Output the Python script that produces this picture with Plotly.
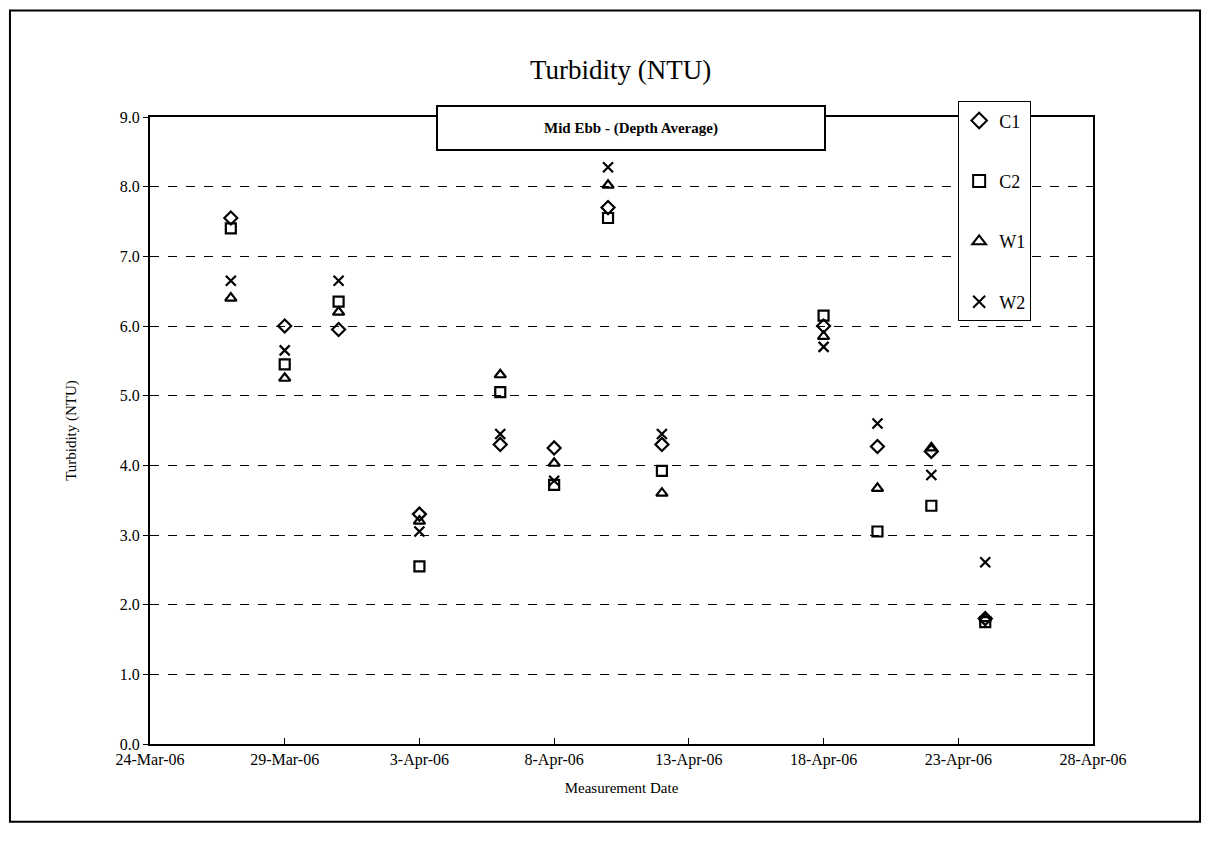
import plotly.graph_objects as go

dates = ["2006-03-27", "2006-03-29", "2006-03-31", "2006-04-03", "2006-04-06", "2006-04-08",
         "2006-04-10", "2006-04-12", "2006-04-18", "2006-04-20", "2006-04-22", "2006-04-24"]
c1 = [7.55, 6.0, 5.95, 3.3, 4.3, 4.25, 7.7, 4.3, 6.0, 4.27, 4.2, 1.8]
c2 = [7.4, 5.45, 6.35, 2.55, 5.05, 3.72, 7.55, 3.92, 6.15, 3.05, 3.42, 1.75]
w1 = [6.4, 5.25, 6.2, 3.2, 5.3, 4.03, 8.02, 3.6, 5.85, 3.67, 4.25, 1.8]
w2 = [6.65, 5.65, 6.65, 3.05, 4.45, 3.78, 8.28, 4.45, 5.7, 4.6, 3.86, 2.61]

tick_dates = ["2006-03-24", "2006-03-29", "2006-04-03", "2006-04-08",
              "2006-04-13", "2006-04-18", "2006-04-23", "2006-04-28"]
tick_labels = ["24-Mar-06", "29-Mar-06", "3-Apr-06", "8-Apr-06",
               "13-Apr-06", "18-Apr-06", "23-Apr-06", "28-Apr-06"]

series = [
    ("C1", c1, "diamond-open", 10),
    ("C2", c2, "square-open", 10),
    ("W1", w1, "triangle-up-open", 10),
    ("W2", w2, "x-thin-open", 10),
]

FONT = "Liberation Serif, Times New Roman, serif"

fig = go.Figure()
for name, vals, sym, sz in series:
    fig.add_trace(go.Scatter(
        x=dates, y=vals, mode="markers", name=name, legendgroup=name,
        marker=dict(symbol=sym, size=sz, color="black",
                    line=dict(color="black", width=2.2)),
    ))

fig.update_layout(
    width=1205, height=848,
    margin=dict(l=150, r=112, t=117, b=104),
    paper_bgcolor="white", plot_bgcolor="white",
    font=dict(family=FONT, color="black", size=16),
    title=dict(text="Turbidity (NTU)", x=0.515, xanchor="center", y=0.918, yanchor="middle",
               font=dict(family=FONT, size=27, color="black")),
    legend=dict(x=0.857, y=1.025, xanchor="left", yanchor="top",
                bgcolor="white", bordercolor="black", borderwidth=1,
                font=dict(family=FONT, size=18), itemsizing="constant",
                tracegroupgap=34, traceorder="grouped", itemwidth=30,
                entrywidth=100, entrywidthmode="pixels"),
    showlegend=True,
)

fig.update_xaxes(
    type="date", range=["2006-03-24", "2006-04-28"],
    tickvals=tick_dates, ticktext=tick_labels,
    showgrid=False, zeroline=False,
    showline=True, linecolor="black", linewidth=2, mirror=True,
    ticks="inside", ticklen=6, tickcolor="black",
    tickfont=dict(family=FONT, size=16),
    title=dict(text="Measurement Date", font=dict(family=FONT, size=15), standoff=14),
)
fig.update_yaxes(
    range=[0, 9], dtick=1, tickformat=".1f",
    showgrid=True, gridcolor="black", gridwidth=1, griddash="dash",
    zeroline=False,
    showline=True, linecolor="black", linewidth=2, mirror=True,
    ticks="outside", ticklen=5, tickcolor="black",
    tickfont=dict(family=FONT, size=16),
    title=dict(text="Turbidity (NTU)", font=dict(family=FONT, size=15), standoff=40),
)

fig.add_annotation(
    text="<b>Mid Ebb - (Depth Average)</b>", xref="paper", yref="paper",
    x=0.51, y=1.019, xanchor="center", yanchor="top", showarrow=False,
    font=dict(family=FONT, size=15, color="black"),
    bgcolor="white", bordercolor="black", borderwidth=2,
    width=384, height=40, valign="middle",
)

fig.add_shape(type="rect", xref="paper", yref="paper",
              x0=-0.1485, x1=1.1135, y0=-0.124, y1=1.17,
              line=dict(color="black", width=2))

fig.write_html("out.html")
